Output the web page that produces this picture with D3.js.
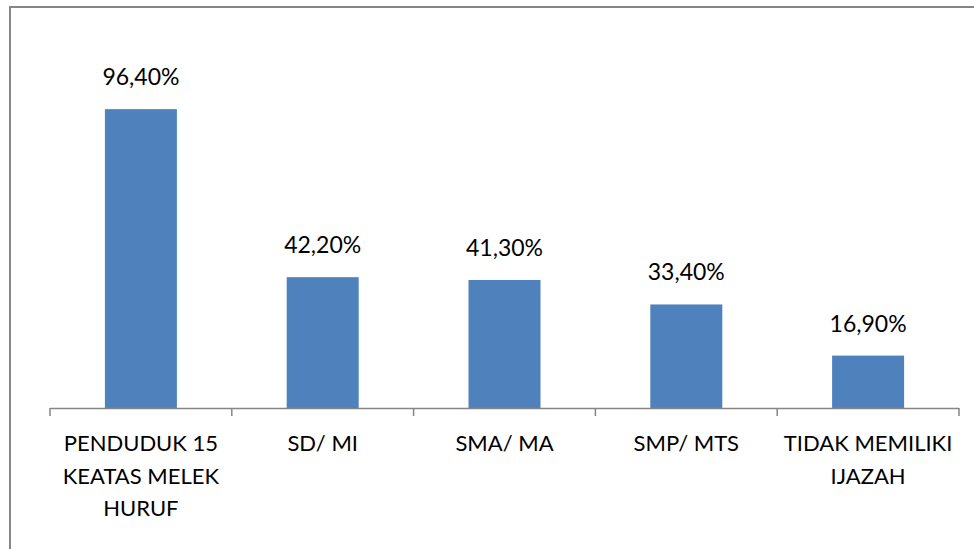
<!DOCTYPE html>
<html>
<head>
<meta charset="utf-8">
<script src="https://cdn.jsdelivr.net/npm/d3@7"></script>
<style>
  html, body { margin: 0; padding: 0; background: #fff; }
  text { font-family: Lato, "Open Sans", sans-serif; fill: #000; }
</style>
</head>
<body>
<div id="container"></div>
<script>
const w = 974,
  h = 549;

const categories = [
  'PENDUDUK 15\nKEATAS MELEK\nHURUF',
  'SD/ MI',
  'SMA/ MA',
  'SMP/ MTS',
  'TIDAK MEMILIKI\nIJAZAH',
];
const values = [96.4, 42.2, 41.3, 33.4, 16.9];
const valueLabels = ['96,40%', '42,20%', '41,30%', '33,40%', '16,90%'];

const svg = d3
  .select('#container')
  .append('svg')
  .attr('width', w)
  .attr('height', h);

// chart border (right and bottom edges fall outside the picture)
svg
  .append('rect')
  .attr('x', 10)
  .attr('y', 7)
  .attr('width', w + 20)
  .attr('height', h + 20)
  .attr('fill', 'none')
  .attr('stroke', '#868686')
  .attr('stroke-width', 2);

const xScale = d3.scaleBand().domain(categories).range([50, 959]).padding(0);
const yScale = d3.scaleLinear().domain([0, 120]).range([408, 36]);

const barWidth = xScale.bandwidth() * 0.396;

svg
  .selectAll('rect.bar')
  .data(categories)
  .enter()
  .append('rect')
  .attr('class', 'bar')
  .attr('x', (d) => xScale(d) + xScale.bandwidth() / 2 - barWidth / 2)
  .attr('width', barWidth)
  .attr('y', (d, i) => yScale(values[i]))
  .attr('height', (d, i) => yScale(0) - yScale(values[i]))
  .attr('fill', '#4F81BD');

svg
  .selectAll('text.val')
  .data(categories)
  .enter()
  .append('text')
  .attr('class', 'val')
  .attr('x', (d) => xScale(d) + xScale.bandwidth() / 2)
  .attr('y', (d, i) => yScale(values[i]) - 24)
  .attr('text-anchor', 'middle')
  .style('font-size', '23px')
  .text((d, i) => valueLabels[i]);

// x axis: line with ticks at band edges
const axis = svg.append('g').attr('id', 'x-axis');
axis
  .append('line')
  .attr('x1', 50)
  .attr('x2', 959)
  .attr('y1', 408.5)
  .attr('y2', 408.5)
  .attr('stroke', '#868686')
  .attr('stroke-width', 1.5);

const edges = categories.map((d) => xScale(d)).concat([xScale.range()[1]]);
axis
  .selectAll('line.tick')
  .data(edges)
  .enter()
  .append('line')
  .attr('class', 'tick')
  .attr('x1', (d) => d)
  .attr('x2', (d) => d)
  .attr('y1', 408)
  .attr('y2', 416)
  .attr('stroke', '#868686')
  .attr('stroke-width', 1.5);

const catText = axis
  .selectAll('text.cat')
  .data(categories)
  .enter()
  .append('text')
  .attr('class', 'cat')
  .attr('text-anchor', 'middle')
  .style('font-size', '22px')
  .attr('y', 451);

catText
  .selectAll('tspan')
  .data((d) => d.split('\n').map((line) => ({ line, cat: d })))
  .enter()
  .append('tspan')
  .attr('x', (d) => xScale(d.cat) + xScale.bandwidth() / 2)
  .attr('dy', (d, i) => (i === 0 ? 0 : 32.5))
  .text((d) => d.line);
</script>
</body>
</html>
